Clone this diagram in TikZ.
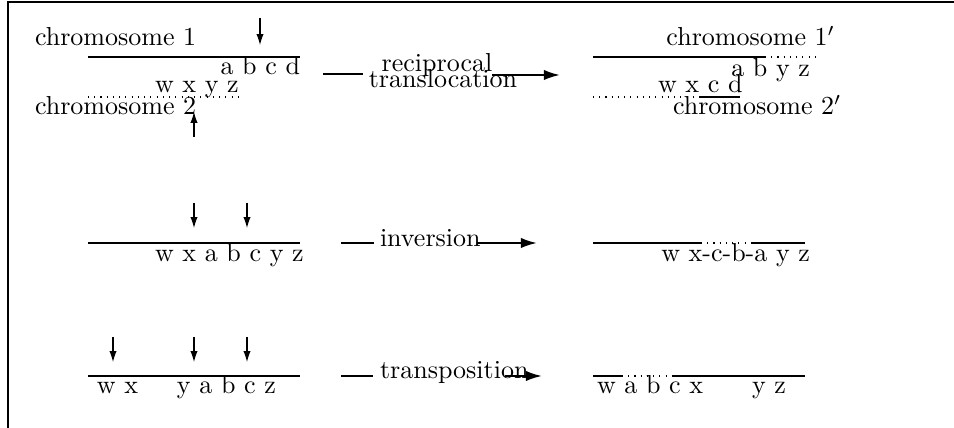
\documentclass[tikz,border=0pt]{standalone}
\usetikzlibrary{arrows.meta}
\begin{document}
\begin{tikzpicture}[x=0.3846pt,y=-0.3846pt,
  lbl/.style={inner sep=0pt,outer sep=0pt},
  chrom/.style={line width=0.4pt},
  chromdot/.style={line width=0.4pt,dotted},
  cut/.style={-{Latex[length=4.2pt,width=2.8pt]},line width=0.4pt},
  proc/.style={thick},
  procarrow/.style={thick,-{Latex[length=6.2pt,width=4pt]}}]
\useasboundingbox (0,0) rectangle (954,428);
% frame
\coordinate (fbl) at (8,428); \coordinate (ftl) at (8,2); \coordinate (ftr) at (954,2);
\draw[line width=0.6pt] (fbl) -- (ftl) -- (ftr);

% ---------- row 1 : reciprocal translocation ----------
\node[lbl,anchor=base west] (c1) at (35,46) {chromosome 1};
\node[lbl,anchor=base west] (c2) at (35,115) {chromosome 2};
\coordinate (l1a) at (88,57); \coordinate (l1b) at (300,57);
\draw[chrom] (l1a) -- (l1b);
\coordinate (l2a) at (88,97); \coordinate (l2b) at (243,97);
\draw[chromdot] (l2a) -- (l2b);
\node[lbl,anchor=base east] (abcd) at (300,75) {a b c d};
\node[lbl,anchor=base west] (wxyz) at (155,93) {w x y z};
\coordinate (d1s) at (260,18); \coordinate (d1e) at (260,45);
\draw[cut] (d1s) -- (d1e);
\coordinate (u1s) at (194,137); \coordinate (u1e) at (194,112);
\draw[cut] (u1s) -- (u1e);

\node[lbl,anchor=base] (rec) at (437,72) {reciprocal};
\node[lbl,anchor=base] (tra) at (443,88) {translocation};
\coordinate (r1a) at (323,74); \coordinate (r1b) at (363,74);
\draw[proc] (r1a) -- (r1b);
\coordinate (r1c) at (492,75); \coordinate (r1d) at (560,75);
\draw[procarrow] (r1c) -- (r1d);

\node[lbl,anchor=base east] (c1p) at (835,46) {chromosome $1'$};
\node[lbl,anchor=base west] (c2p) at (673,115) {chromosome $2'$};
\coordinate (p1a) at (593,57); \coordinate (p1b) at (765,57); \coordinate (p1c) at (815,57);
\draw[chrom] (p1a) -- (p1b);
\draw[chromdot] (p1b) -- (p1c);
\coordinate (p2a) at (593,97); \coordinate (p2b) at (700,97); \coordinate (p2c) at (740,97);
\draw[chromdot] (p2a) -- (p2b);
\draw[chrom] (p2b) -- (p2c);
\node[lbl,anchor=base east] (abyz) at (810,77) {a b y z};
\node[lbl,anchor=base west] (wxcd) at (658,93) {w x c d};

% ---------- row 2 : inversion ----------
\coordinate (i1a) at (88,243); \coordinate (i1b) at (300,243);
\draw[chrom] (i1a) -- (i1b);
\node[lbl,anchor=base west] (inl) at (155,262) {w x a b c y z};
\coordinate (d2s) at (194,203); \coordinate (d2e) at (194,228);
\draw[cut] (d2s) -- (d2e);
\coordinate (d3s) at (247,203); \coordinate (d3e) at (247,228);
\draw[cut] (d3s) -- (d3e);

\node[lbl,anchor=base west] (inv) at (380,247) {inversion};
\coordinate (r2a) at (341,243); \coordinate (r2b) at (374,243);
\draw[proc] (r2a) -- (r2b);
\coordinate (r2c) at (477,243); \coordinate (r2d) at (537,243);
\draw[procarrow] (r2c) -- (r2d);

\coordinate (q1a) at (593,243); \coordinate (q1b) at (701,243);
\coordinate (q1c) at (752,243); \coordinate (q1d) at (805,243);
\draw[chrom] (q1a) -- (q1b);
\draw[chromdot] (q1b) -- (q1c);
\draw[chrom] (q1c) -- (q1d);
\node[lbl,anchor=base east] (inr) at (810,262) {w x-c-b-a y z};

% ---------- row 3 : transposition ----------
\coordinate (t1a) at (88,376); \coordinate (t1b) at (300,376);
\draw[chrom] (t1a) -- (t1b);
\node[lbl,anchor=base west] (tl1) at (97,394) {w x};
\node[lbl,anchor=base west] (tl2) at (177,394) {y a b c z};
\coordinate (d4s) at (113,337); \coordinate (d4e) at (113,362);
\draw[cut] (d4s) -- (d4e);
\coordinate (d5s) at (194,337); \coordinate (d5e) at (194,362);
\draw[cut] (d5s) -- (d5e);
\coordinate (d6s) at (247,337); \coordinate (d6e) at (247,362);
\draw[cut] (d6s) -- (d6e);

\node[lbl,anchor=base west] (trp) at (380,379) {transposition};
\coordinate (r3a) at (341,376); \coordinate (r3b) at (373,376);
\draw[proc] (r3a) -- (r3b);
\coordinate (r3c) at (505,376); \coordinate (r3d) at (542,376);
\draw[procarrow] (r3c) -- (r3d);

\coordinate (s1a) at (593,376); \coordinate (s1b) at (622,376);
\coordinate (s1c) at (672,376); \coordinate (s1d) at (805,376);
\draw[chrom] (s1a) -- (s1b);
\draw[chromdot] (s1b) -- (s1c);
\draw[chrom] (s1c) -- (s1d);
\node[lbl,anchor=base west] (tr1) at (597,394) {w a b c x};
\node[lbl,anchor=base west] (tr2) at (752,394) {y z};
\end{tikzpicture}
\end{document}
